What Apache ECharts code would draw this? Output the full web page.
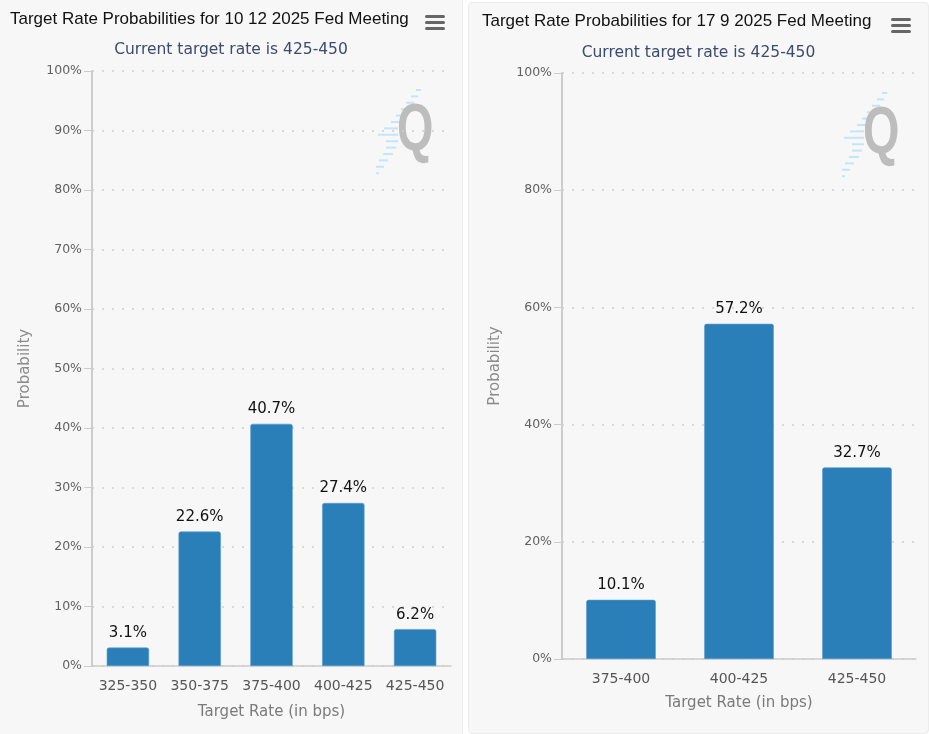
<!DOCTYPE html>
<html>
<head>
<meta charset="utf-8">
<title>Target Rate Probabilities</title>
<script src="https://cdn.jsdelivr.net/npm/echarts@6/dist/echarts.min.js"></script>
<style>
  html, body { margin: 0; padding: 0; background: #ffffff; }
  .panel { position: absolute; background: #f7f7f7; box-sizing: border-box; }
  #left { left: 0; top: 0; width: 463px; height: 734px; border-right: 1px solid #ececec; }
  #right { left: 468px; top: 2px; width: 461px; height: 732px; border: 1px solid #ececec; border-radius: 4px; }
</style>
</head>
<body>
<div id="left" class="panel"></div>
<div id="right" class="panel"></div>
<script>
// 数据：两次议息会议的目标利率概率
const subtitleText = 'Current target rate is 425-450';

const decTitle = 'Target Rate Probabilities for 10 12 2025 Fed Meeting';
const decCategories = ['325-350', '350-375', '375-400', '400-425', '425-450'];
const decValues = [3.1, 22.6, 40.7, 27.4, 6.2];

const sepTitle = 'Target Rate Probabilities for 17 9 2025 Fed Meeting';
const sepCategories = ['375-400', '400-425', '425-450'];
const sepValues = [10.1, 57.2, 32.7];

const FONT = '"DejaVu Sans", Verdana, sans-serif';
const TITLE_FONT = '"Liberation Sans", Arial, sans-serif';

// 右上角菜单按钮 + 水印
function decorations(menuX, menuY, qX, qY) {
    const items = [];
    for (let i = 0; i < 3; i++) {
        items.push({
            type: 'rect',
            shape: { x: menuX, y: menuY + i * 6, width: 20, height: 3, r: 1.5 },
            style: { fill: '#666666' }
        });
    }
    // 斜向浅蓝短线
    const dashes = [
        [19, 5], [14, 7], [9, 8], [4, 10], [-1, 8], [-6, 10], [-13, 14],
        [-19, 20], [-11, 12], [-11, 10], [-14, 10], [-18, 9], [-21, 8], [-21, 3]
    ];
    dashes.forEach((d, i) => {
        items.push({
            type: 'rect',
            shape: { x: qX + d[0], y: qY - 15 + i * 6.4, width: d[1], height: 2 },
            style: { fill: '#c3e5f7' }
        });
    });
    items.push({
        type: 'text',
        x: qX, y: qY - 6,
        scaleX: 0.9,
        scaleY: 1.3,
        style: {
            text: 'Q', fill: '#bdbdbd',
            font: 'bold 52px ' + TITLE_FONT
        }
    });
    return items;
}

function makeChart(el, titleText, categories, values, interval, layout) {
    const chart = echarts.init(document.getElementById(el));
    chart.setOption({
        backgroundColor: 'transparent',
        animation: false,
        title: [
            {
                text: titleText, left: layout.titleLeft, top: layout.titleTop, padding: 0,
                textStyle: { fontFamily: TITLE_FONT, fontSize: 17, fontWeight: 'normal', color: '#111111' }
            },
            {
                text: subtitleText, left: 'center', top: layout.subTop, padding: 0,
                textStyle: { fontFamily: FONT, fontSize: 15.5, fontWeight: 'normal', color: '#3c4a6e' }
            }
        ],
        graphic: decorations(layout.menuX, layout.menuY, layout.qX, layout.qY),
        grid: layout.grid,
        xAxis: {
            type: 'category',
            data: categories,
            name: 'Target Rate (in bps)',
            nameLocation: 'middle',
            nameGap: layout.xNameGap,
            nameTextStyle: { fontFamily: FONT, fontSize: 15, color: '#7a7a7a' },
            axisLine: { lineStyle: { color: '#cccccc', width: 1.5 } },
            axisTick: { alignWithLabel: true, length: 9, lineStyle: { color: '#cccccc' } },
            axisLabel: { interval: 0, fontFamily: FONT, fontSize: 14, color: '#555555', margin: 13 }
        },
        yAxis: {
            type: 'value',
            min: 0, max: 100, interval: interval,
            name: 'Probability',
            nameLocation: 'middle',
            nameGap: 59,
            nameTextStyle: { fontFamily: FONT, fontSize: 15, color: '#8a8a8a' },
            axisLine: { show: true, lineStyle: { color: '#cccccc', width: 2 } },
            axisTick: { show: true, length: 8, lineStyle: { color: '#cccccc' } },
            axisLabel: { formatter: '{value}%', fontFamily: FONT, fontSize: 12.5, color: '#606060', margin: 10 },
            splitLine: { lineStyle: { color: '#d0d0d0', width: 1.5, type: [2, 8] } }
        },
        series: [{
            type: 'bar',
            data: values,
            barWidth: '59%',
            itemStyle: { color: '#2a7fb8', borderColor: '#5a9ccc', borderWidth: 0.6, borderRadius: [2, 2, 0, 0] },
            label: {
                show: true, position: 'top', distance: 7,
                formatter: p => p.value.toFixed(1) + '%',
                fontFamily: FONT, fontSize: 15, color: '#111111'
            }
        }]
    });
    return chart;
}

makeChart('left', decTitle, decCategories, decValues, 10, {
    titleLeft: 10, titleTop: 11, subTop: 42,
    menuX: 425, menuY: 15, qX: 397, qY: 104,
    grid: { left: 92, right: 11, top: 71, bottom: 68 },
    xNameGap: 39
});

makeChart('right', sepTitle, sepCategories, sepValues, 20, {
    titleLeft: 13, titleTop: 10, subTop: 41.5,
    menuX: 422, menuY: 15, qX: 394, qY: 104,
    grid: { left: 93, right: 12, top: 70, bottom: 74 },
    xNameGap: 37
});
</script>
</body>
</html>
